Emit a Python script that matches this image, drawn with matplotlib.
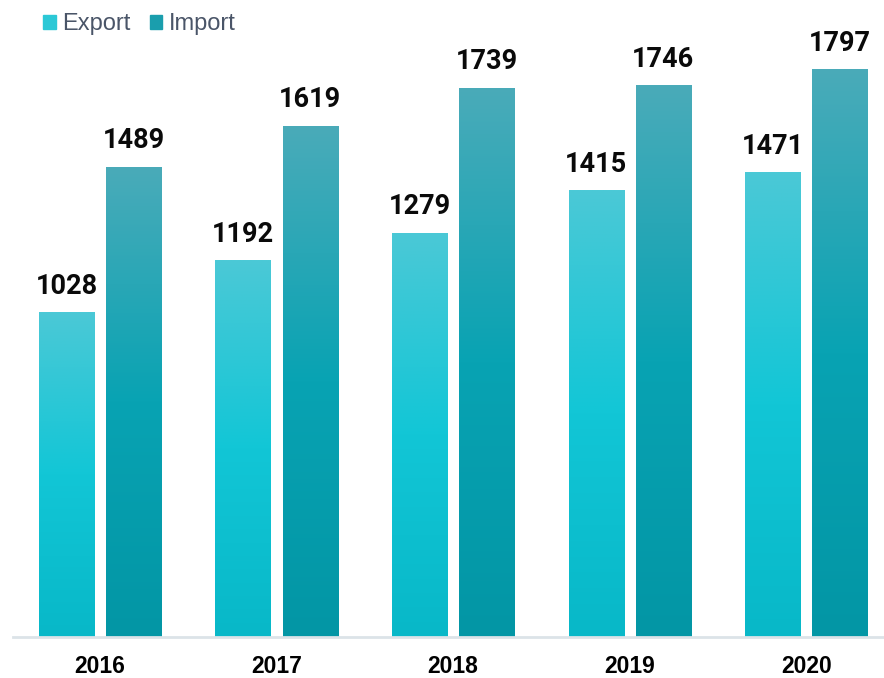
import numpy as np
import matplotlib.pyplot as plt
from matplotlib.colors import LinearSegmentedColormap
from matplotlib.patches import Patch

years = ['2016', '2017', '2018', '2019', '2020']
export = [1028, 1192, 1279, 1415, 1471]
imports = [1489, 1619, 1739, 1746, 1797]

# bottom -> top colours of each bar
exp_cmap = LinearSegmentedColormap.from_list('exp', ['#08B8C8', '#12C6D6', '#4BC9D6'])
imp_cmap = LinearSegmentedColormap.from_list('imp', ['#0396A5', '#08A3B3', '#4AABB9'])

fig = plt.figure(figsize=(8.84, 6.78), dpi=100)
ax = fig.add_axes([13/884, 41/678, 871/884, 597/678])

x = np.arange(len(years))
w = 0.313
off = 0.19
grad = np.linspace(0, 1, 256).reshape(-1, 1)

def grad_bars(xs, vals, cmap):
    bars = ax.bar(xs, vals, w, color='none', edgecolor='none')
    for b in bars:
        x0, y0 = b.get_x(), b.get_y()
        im = ax.imshow(grad, cmap=cmap, origin='lower', aspect='auto',
                       extent=[x0, x0 + b.get_width(), y0, y0 + b.get_height()],
                       zorder=2)
        im.set_clip_path(b)
    for xi, v in zip(xs, vals):
        ax.annotate(str(v), (xi, v), xytext=(0, 9), textcoords='offset points',
                    ha='center', va='bottom', fontsize=19.5, fontweight='bold',
                    family='Roboto', color='#0A0A0A')
    return bars

grad_bars(x - off, export, exp_cmap)
grad_bars(x + off, imports, imp_cmap)

ax.set_xlim(-0.493, 4.44)
ax.set_ylim(0, 1890)
ax.set_xticks(x)
ax.set_xticklabels(years, fontsize=16.5, fontweight='bold', family='Liberation Sans')
ax.tick_params(axis='x', length=0, pad=13)
ax.set_yticks([])
for s in ['top', 'right', 'left']:
    ax.spines[s].set_visible(False)
ax.spines['bottom'].set_color('#DCE3E8')
ax.spines['bottom'].set_linewidth(2)

handles = [Patch(color='#2CC8D6'), Patch(color='#1A9EAD')]
fig.legend(handles, ['Export', 'Import'], loc='upper left', bbox_to_anchor=(0.025, 1.012),
           ncol=2, frameon=False, handlelength=0.55, handleheight=0.55,
           handletextpad=0.25, columnspacing=0.8,
           prop={'family': 'Liberation Sans', 'size': 17}, labelcolor='#4A5568')

fig.savefig('out.png', dpi=100)
